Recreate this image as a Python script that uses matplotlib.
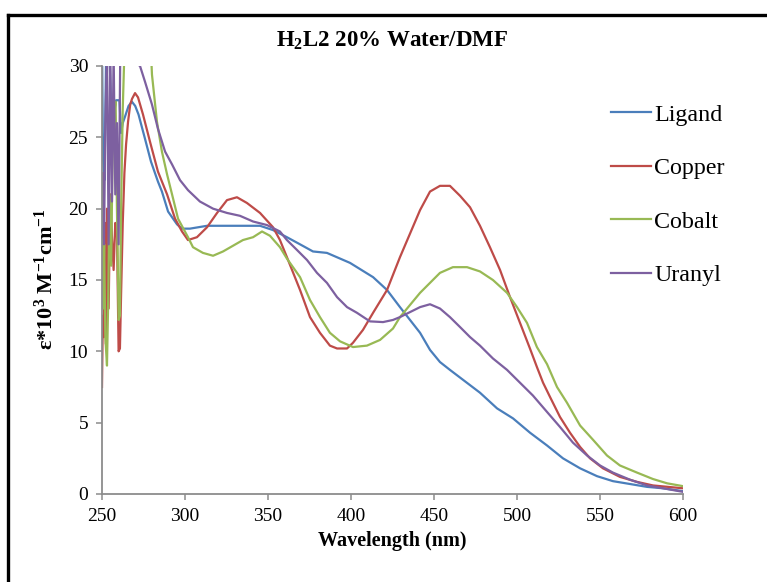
import matplotlib
matplotlib.use("Agg")
import matplotlib.pyplot as plt
from matplotlib.lines import Line2D

plt.rcParams['font.family'] = ['Liberation Serif', 'DejaVu Serif']
plt.rcParams['mathtext.fontset'] = 'custom'
plt.rcParams['mathtext.rm'] = 'Liberation Serif:bold'
plt.rcParams['mathtext.bf'] = 'Liberation Serif:bold'
plt.rcParams['mathtext.default'] = 'rm'

# ---------------- data (wavelength nm, epsilon*10^3) ----------------
lig_x = [250.0, 250.6, 251.5, 252.5, 253.5, 254.5, 255.5, 256.5, 257.5, 258.5,
         259.5, 260.5, 261.5, 262.5, 264.0, 266.0, 268.0, 270.0, 272.0, 275.9,
         279.5, 283.7, 286.1, 289.8, 295.2, 298.2, 303.0, 313.3, 325.3, 337.3,
         345.2, 353.0, 361.4, 369.3, 377.1, 385.5, 399.4, 413.3, 421.7, 429.5,
         441.6, 447.6, 453.6, 459.6, 477.7, 488.0, 497.6, 507.8, 518.1, 527.7,
         538.0, 548.2, 557.8, 568.1, 578.3, 588.0, 600.0]
lig_y = [32.0, 23.5, 22.0, 31.0, 33.0, 31.0, 27.0, 27.0, 26.8, 27.6,
         27.6, 27.6, 25.3, 26.0, 26.5, 27.2, 27.5, 27.2, 26.6, 24.9,
         23.3, 21.9, 21.2, 19.8, 18.9, 18.6, 18.6, 18.8, 18.8, 18.8,
         18.8, 18.5, 18.0, 17.5, 17.0, 16.9, 16.2, 15.2, 14.3, 13.1,
         11.3, 10.1, 9.25, 8.7, 7.1, 6.0, 5.3, 4.3, 3.4, 2.5,
         1.8, 1.25, 0.9, 0.7, 0.5, 0.4, 0.2]

cu_x = [250.0, 250.5, 251.0, 251.8, 252.4, 253.0, 254.0, 255.0, 256.0, 257.0,
        258.0, 259.0, 260.0, 260.8, 261.5, 262.5, 263.5, 264.5, 265.7, 267.0,
        268.1, 269.9, 271.7, 274.7, 278.9, 283.7, 289.2, 294.0, 298.2, 301.8,
        307.2, 313.3, 319.3, 325.3, 331.3, 337.3, 345.2, 353.0, 357.2, 361.4,
        369.3, 375.3, 381.3, 387.3, 391.6, 397.6, 401.2, 407.2, 413.3, 421.7,
        429.5, 441.6, 447.6, 453.6, 459.6, 465.7, 471.7, 477.7, 483.7, 489.8,
        495.8, 501.8, 507.8, 512.0, 515.7, 519.9, 525.9, 531.9, 538.0, 544.0,
        551.8, 562.0, 572.3, 581.9, 600.0]
cu_y = [7.5, 12.5, 11.0, 19.0, 10.5, 20.0, 13.0, 21.0, 18.0, 15.7,
        19.0, 18.5, 10.0, 10.2, 14.0, 19.0, 22.5, 24.5, 26.1, 27.3,
        27.7, 28.1, 27.8, 26.6, 24.7, 22.6, 21.0, 19.3, 18.4, 17.8,
        18.0, 18.7, 19.7, 20.6, 20.8, 20.4, 19.7, 18.7, 17.8, 16.6,
        14.3, 12.4, 11.3, 10.4, 10.2, 10.2, 10.6, 11.5, 12.7, 14.3,
        16.6, 19.9, 21.2, 21.6, 21.6, 20.9, 20.1, 18.8, 17.3, 15.7,
        13.8, 12.0, 10.2, 8.9, 7.8, 6.8, 5.4, 4.3, 3.3, 2.5,
        1.8, 1.2, 0.85, 0.6, 0.4]

co_x = [250.0, 250.6, 251.3, 252.0, 253.0, 253.8, 254.5, 255.5, 256.5, 257.5,
        258.2, 259.0, 260.0, 260.8, 261.5, 262.5, 263.5, 279.5, 280.1, 283.1,
        286.1, 289.2, 292.2, 295.8, 301.8, 304.8, 310.8, 316.9, 322.9, 328.9,
        334.9, 341.0, 346.4, 351.2, 357.2, 361.4, 369.3, 375.3, 381.3, 387.3,
        393.4, 401.2, 409.6, 417.5, 425.3, 429.5, 441.6, 447.6, 453.6, 461.4,
        469.9, 477.7, 485.5, 494.0, 500.0, 506.0, 512.0, 518.1, 524.1, 530.1,
        538.0, 545.8, 554.2, 562.0, 572.3, 581.9, 590.4, 600.0]
co_y = [19.0, 13.0, 17.5, 11.0, 9.0, 14.0, 21.0, 16.0, 25.0, 27.0,
        27.5, 20.0, 12.2, 12.5, 20.0, 27.0, 31.0, 31.0, 29.4, 26.1,
        24.0, 22.4, 21.0, 19.3, 18.0, 17.3, 16.9, 16.7, 17.0, 17.4,
        17.8, 18.0, 18.4, 18.1, 17.3, 16.5, 15.2, 13.6, 12.4, 11.3,
        10.7, 10.3, 10.4, 10.8, 11.6, 12.4, 14.1, 14.8, 15.5, 15.9,
        15.9, 15.6, 15.0, 14.1, 13.1, 12.0, 10.3, 9.1, 7.5, 6.4,
        4.8, 3.8, 2.7, 2.0, 1.5, 1.05, 0.75, 0.55]

ur_x = [250.0, 250.5, 251.2, 252.0, 253.0, 254.0, 255.0, 256.0, 257.0, 258.0,
        259.0, 260.0, 261.0, 272.9, 275.9, 280.1, 283.7, 288.0, 292.2, 297.0,
        301.8, 309.0, 316.9, 325.3, 333.1, 341.0, 349.4, 357.2, 361.4, 367.5,
        373.5, 379.5, 385.5, 391.6, 397.6, 403.6, 411.4, 419.3, 425.3, 429.5,
        441.6, 447.6, 453.6, 459.6, 465.7, 471.7, 477.7, 485.5, 494.0, 501.8,
        509.6, 518.1, 525.9, 533.7, 542.2, 550.0, 557.8, 568.1, 578.3, 588.0,
        600.0]
ur_y = [18.0, 22.5, 17.5, 26.0, 31.0, 17.5, 31.0, 20.5, 31.0, 21.0,
        26.0, 17.5, 31.0, 30.0, 28.9, 27.3, 25.6, 24.0, 23.1, 22.0,
        21.3, 20.5, 20.0, 19.7, 19.5, 19.1, 18.85, 18.4, 17.8, 17.1,
        16.4, 15.5, 14.8, 13.8, 13.1, 12.7, 12.1, 12.05, 12.2, 12.4,
        13.1, 13.3, 13.0, 12.4, 11.7, 11.0, 10.4, 9.5, 8.7, 7.8,
        6.9, 5.75, 4.7, 3.6, 2.7, 2.0, 1.5, 1.0, 0.6, 0.4,
        0.15]

series_names = ["Ligand", "Copper", "Cobalt", "Uranyl"]
series_colors = ["#4A7EBB", "#BE4B48", "#98B954", "#7D60A0"]

x_ticks = [250, 300, 350, 400, 450, 500, 550, 600]
y_ticks = [0, 5, 10, 15, 20, 25, 30]

# ---------------- figure ----------------
W, H = 767, 582
fig = plt.figure(figsize=(W / 100, H / 100), dpi=100)

# outer chart border (top & left visible, right/bottom cropped)
fig.add_artist(Line2D([7.5 / W, 7.5 / W], [0, 1 - 14.5 / H], color='black', lw=2.4,
                      transform=fig.transFigure, solid_capstyle='projecting'))
fig.add_artist(Line2D([7.5 / W, 1.0], [1 - 14.5 / H, 1 - 14.5 / H], color='black', lw=2.4,
                      transform=fig.transFigure, solid_capstyle='projecting'))

ax = fig.add_axes([102 / W, 88 / H, (683 - 102) / W, (494 - 66) / H])

data = [(lig_x, lig_y), (cu_x, cu_y), (co_x, co_y), (ur_x, ur_y)]
for (xs, ys), name, col in zip(data, series_names, series_colors):
    ax.plot(xs, ys, color=col, lw=1.6, label=name, solid_joinstyle='round')

ax.set_xlim(250, 600)
ax.set_ylim(0, 30)
ax.set_xticks(x_ticks)
ax.set_yticks(y_ticks)
for s in ['top', 'right']:
    ax.spines[s].set_visible(False)
for s in ['left', 'bottom']:
    ax.spines[s].set_color('#8C8C8C')
    ax.spines[s].set_linewidth(1.3)
ax.tick_params(direction='out', length=4, width=1.1, color='#8C8C8C',
               labelsize=14, labelcolor='black')
ax.tick_params(axis='y', pad=6)
ax.tick_params(axis='x', pad=6)

fig.text(392 / W, 1 - 41 / H, r"H$_2$L2 20% Water/DMF", ha='center', va='center',
         fontsize=16.5, fontweight='bold')
fig.text(392 / W, 1 - 541 / H, "Wavelength (nm)", ha='center', va='center',
         fontsize=14.5, fontweight='bold')
fig.text(46 / W, 1 - 279 / H, r"ε*10$^{3}$ M$^{-1}$cm$^{-1}$", ha='center', va='center',
         rotation=90, fontsize=16, fontweight='bold')

leg = ax.legend(loc='upper left', bbox_to_anchor=(611 / W, 1 - 104 / H),
                bbox_transform=fig.transFigure, frameon=False, fontsize=17.3,
                handlelength=1.67, handletextpad=0.13, labelspacing=1.32,
                borderpad=0.0, borderaxespad=0.0)
for h in leg.legend_handles:
    h.set_linewidth(1.6)

fig.savefig("out.png", dpi=100)
